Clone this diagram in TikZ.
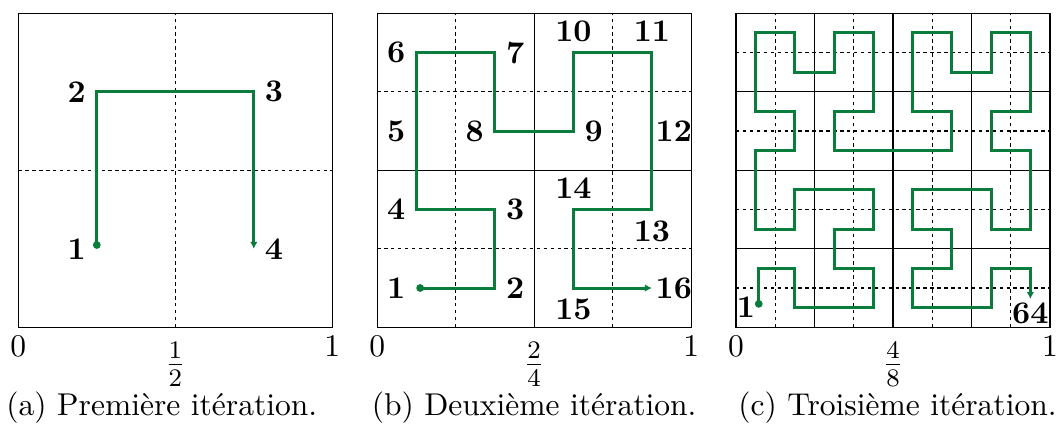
\documentclass[tikz,border=0pt]{standalone}
\usepackage{fontspec}
\usepackage{amsmath}
\usepackage{xcolor}
\usetikzlibrary{arrows.meta, positioning}
\definecolor{hilbgreen}{RGB}{10,125,60}
\tikzset{
  frame/.style={draw, line width=0.4pt},
  maingrid/.style={line width=0.4pt},
  subgrid/.style={line width=0.4pt, dash pattern=on 1.1pt off 1.1pt},
  curve/.style={hilbgreen, line width=0.95pt, {Circle[length=2.4pt]}-{Latex[length=2.2pt,width=2.4pt]}},
  num/.style={font=\bfseries},
  ticklab/.style={anchor=north, inner sep=0pt, yshift=-0.9mm},
  fraclab/.style={anchor=north, inner sep=0pt, yshift=-1.65mm, font=\large},
  caption/.style={anchor=base, inner sep=0pt, yshift=-9.78mm}
}
\begin{document}
\begin{tikzpicture}
  \useasboundingbox (-0.204,-1.100) rectangle (11.567,3.648);

  % (a) premiere iteration
  \begin{scope}[x=1.75cm, y=1.75cm]
    \draw[subgrid] (1,0) -- (1,2) (0,1) -- (2,1);
    \draw[frame] (0,0) rectangle (2,2);
    \draw[curve] (0.5,0.5) -- (0.5,1.5) -- (1.5,1.5) -- (1.5,0.5);
    \node[num, left] (a1) at (0.5,0.5) {1};
    \node[num, left] (a2) at (0.5,1.5) {2};
    \node[num, right] (a3) at (1.5,1.5) {3};
    \node[num, right] (a4) at (1.5,0.5) {4};
    \node[ticklab] (azero) at (0,0) {0};
    \node[fraclab] (ahalf) at (1,0) {$\frac{1}{2}$};
    \node[ticklab] (aone) at (2,0) {1};
    \node[caption, xshift=-1.5mm] (acap) at (1,0) {(a) Première itération.};
  \end{scope}

  % (b) deuxieme iteration
  \begin{scope}[shift={(4cm,0)}, x=0.875cm, y=0.875cm]
    \draw[subgrid] (1,0) -- (1,4) (3,0) -- (3,4) (0,1) -- (4,1) (0,3) -- (4,3);
    \draw[maingrid] (2,0) -- (2,4) (0,2) -- (4,2);
    \draw[frame] (0,0) rectangle (4,4);
    \draw[curve] (0.5,0.5) -- (1.5,0.5) -- (1.5,1.5) -- (0.5,1.5) -- (0.5,3.5)
      -- (1.5,3.5) -- (1.5,2.5) -- (2.5,2.5) -- (2.5,3.5) -- (3.5,3.5)
      -- (3.5,1.5) -- (2.5,1.5) -- (2.5,0.5) -- (3.5,0.5);
    \node[num, left] (b1) at (0.5,0.5) {1};
    \node[num, right] (b2) at (1.5,0.5) {2};
    \node[num, right] (b3) at (1.5,1.5) {3};
    \node[num, left] (b4) at (0.5,1.5) {4};
    \node[num, left] (b5) at (0.5,2.5) {5};
    \node[num, left] (b6) at (0.5,3.5) {6};
    \node[num, right] (b7) at (1.5,3.5) {7};
    \node[num, left] (b8) at (1.5,2.5) {8};
    \node[num, right] (b9) at (2.5,2.5) {9};
    \node[num, above] (b10) at (2.5,3.5) {10};
    \node[num, above] (b11) at (3.5,3.5) {11};
    \node[num, right, inner sep=1pt] (b12) at (3.5,2.5) {12};
    \node[num, below] (b13) at (3.5,1.5) {13};
    \node[num, above] (b14) at (2.5,1.5) {14};
    \node[num, below] (b15) at (2.5,0.5) {15};
    \node[num, right, inner sep=1pt] (b16) at (3.5,0.5) {16};
    \node[ticklab] (bzero) at (0,0) {0};
    \node[fraclab] (bhalf) at (2,0) {$\frac{2}{4}$};
    \node[ticklab] (bone) at (4,0) {1};
    \node[caption] (bcap) at (2,0) {(b) Deuxième itération.};
  \end{scope}

  % (c) troisieme iteration
  \begin{scope}[shift={(8cm,0)}, x=0.4375cm, y=0.4375cm]
    \draw[subgrid] (1,0) -- (1,8) (3,0) -- (3,8) (5,0) -- (5,8) (7,0) -- (7,8)
      (0,1) -- (8,1) (0,3) -- (8,3) (0,5) -- (8,5) (0,7) -- (8,7);
    \draw[maingrid] (2,0) -- (2,8) (4,0) -- (4,8) (6,0) -- (6,8)
      (0,2) -- (8,2) (0,4) -- (8,4) (0,6) -- (8,6);
    \draw[frame] (0,0) rectangle (8,8);
    \draw[curve] (0.58,0.5) -- (0.58,1.5) -- (1.5,1.5) -- (1.5,0.5) -- (3.5,0.5)
      -- (3.5,1.5) -- (2.5,1.5) -- (2.5,2.5) -- (3.5,2.5) -- (3.5,3.5) -- (1.5,3.5)
      -- (1.5,2.5) -- (0.5,2.5) -- (0.5,4.5) -- (1.5,4.5) -- (1.5,5.5) -- (0.5,5.5)
      -- (0.5,7.5) -- (1.5,7.5) -- (1.5,6.5) -- (2.5,6.5) -- (2.5,7.5) -- (3.5,7.5)
      -- (3.5,5.5) -- (2.5,5.5) -- (2.5,4.5) -- (5.5,4.5) -- (5.5,5.5) -- (4.5,5.5)
      -- (4.5,7.5) -- (5.5,7.5) -- (5.5,6.5) -- (6.5,6.5) -- (6.5,7.5) -- (7.5,7.5)
      -- (7.5,5.5) -- (6.5,5.5) -- (6.5,4.5) -- (7.5,4.5) -- (7.5,2.5) -- (6.5,2.5)
      -- (6.5,3.5) -- (4.5,3.5) -- (4.5,2.5) -- (5.5,2.5) -- (5.5,1.5) -- (4.5,1.5)
      -- (4.5,0.5) -- (6.5,0.5) -- (6.5,1.5) -- (7.5,1.5) -- (7.5,0.72);
    \node[num, left, inner sep=1pt] (c1) at (0.58,0.5) {1};
    \node[num, below, inner sep=1pt] (c64) at (7.5,0.72) {64};
    \node[ticklab] (czero) at (0,0) {0};
    \node[fraclab] (chalf) at (4,0) {$\frac{4}{8}$};
    \node[ticklab] (cone) at (8,0) {1};
    \node[caption, xshift=0.5mm] (ccap) at (4,0) {(c) Troisième itération.};
  \end{scope}
\end{tikzpicture}
\end{document}
